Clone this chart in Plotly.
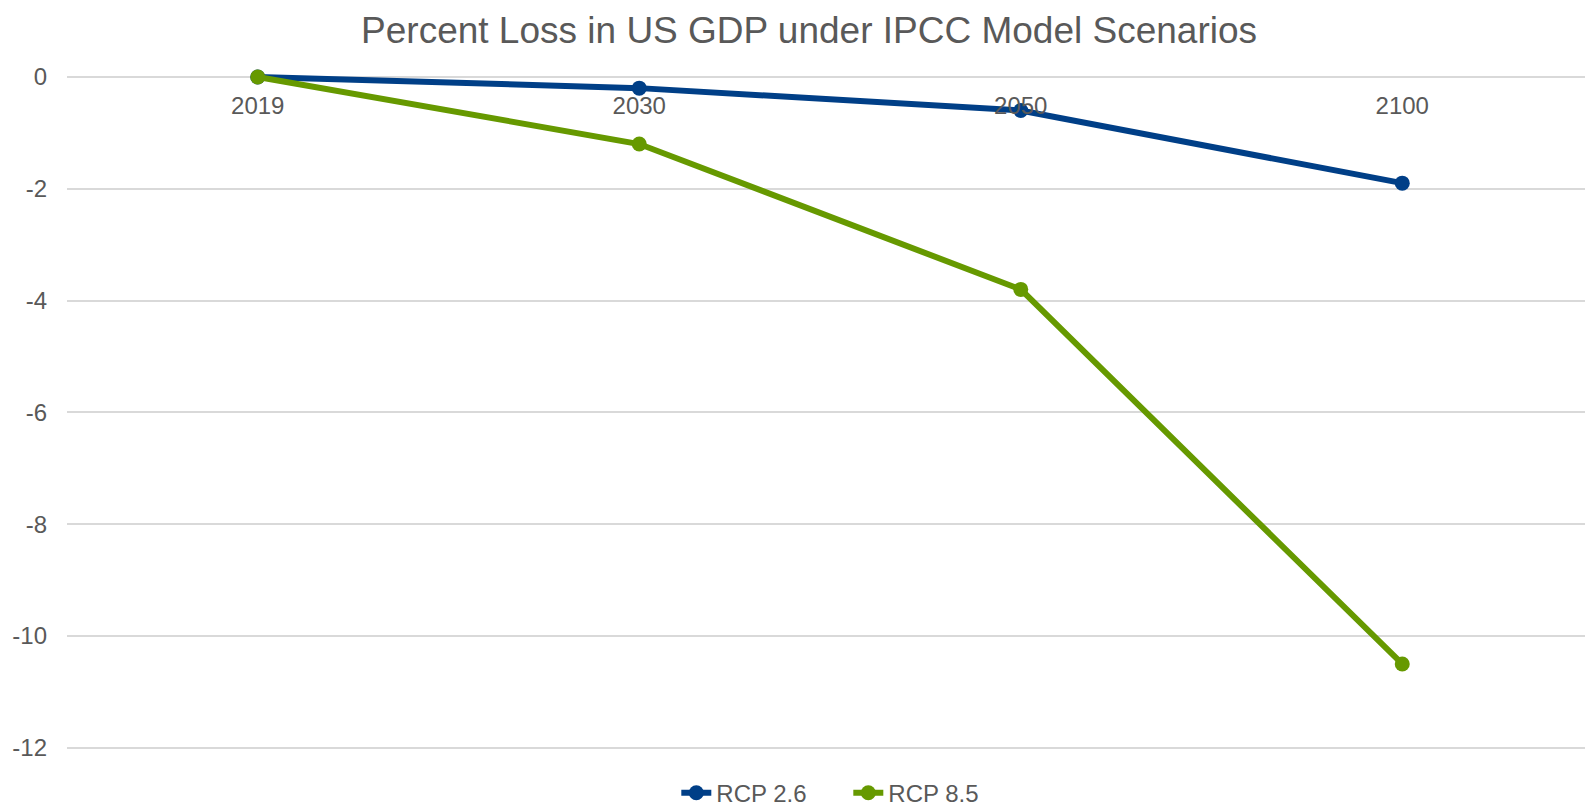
import plotly.graph_objects as go

years = ["2019", "2030", "2050", "2100"]
rcp26 = [0, -0.2, -0.6, -1.9]
rcp85 = [0, -1.2, -3.8, -10.5]
series_names = ["RCP 2.6", "RCP 8.5"]
y_ticks = [0, -2, -4, -6, -8, -10, -12]
y_ticktext = [str(v) for v in y_ticks]

FONT = "Liberation Sans, Arial, sans-serif"
GREY = "#595959"
y_range = [-12.2, 0.5]

fig = go.Figure()
fig.add_trace(go.Scatter(
    x=years, y=rcp26, name=series_names[0], mode="lines+markers",
    line=dict(color="#003F87", width=6), marker=dict(size=15, color="#003F87"),
    cliponaxis=False))
fig.add_trace(go.Scatter(
    x=years, y=rcp85, name=series_names[1], mode="lines+markers",
    line=dict(color="#669900", width=6), marker=dict(size=15, color="#669900"),
    cliponaxis=False))

fig.update_layout(
    width=1585, height=801,
    margin=dict(l=59, r=0, t=41, b=50, autoexpand=False),
    paper_bgcolor="white", plot_bgcolor="white",
    font=dict(family=FONT, size=24, color=GREY),
    title=dict(text="Percent Loss in US GDP under IPCC Model Scenarios",
               x=0.5054, xanchor="center", y=0.972, yanchor="middle",
               font=dict(size=37, color=GREY, family=FONT)),
    legend=dict(orientation="h", x=0.512, xanchor="center", y=-0.048, yanchor="middle",
                font=dict(size=24, color=GREY), entrywidth=127),
    xaxis=dict(type="category", range=[-0.5, 3.5], showgrid=False, showline=False,
               zeroline=False, ticks="", anchor="free",
               position=(0 - y_range[0]) / (y_range[1] - y_range[0]),
               ticklabelstandoff=12,
               tickfont=dict(size=24, color=GREY)),
    yaxis=dict(range=y_range, tickvals=y_ticks, ticktext=y_ticktext,
               showgrid=True, gridcolor="#D9D9D9",
               gridwidth=2, zeroline=False, showline=False, ticks="",
               ticklabelstandoff=19, tickfont=dict(size=24, color=GREY)),
)

fig.write_html("out.html")
